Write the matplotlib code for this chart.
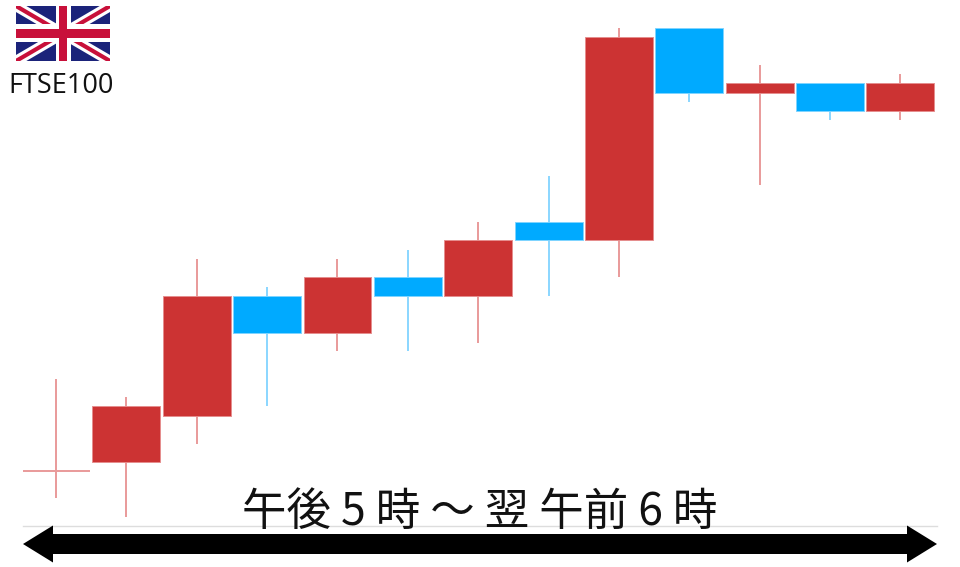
import matplotlib
matplotlib.use("Agg")
import matplotlib.pyplot as plt
from matplotlib.patches import Polygon, Rectangle

plt.rcParams['font.family'] = ['Noto Sans CJK JP', 'DejaVu Sans']

# Values, in height above the base line
body_low = [55, 64, 110, 193, 193, 230, 230, 286, 286, 433, 433, 415, 415]
body_high = [55, 120, 230, 230, 249, 249, 286, 304, 489, 498, 443, 443, 443]
wick_low = [28, 9, 82, 120, 175, 175, 183, 230, 249, 424, 341, 406, 406]
wick_high = [147, 129, 267, 239, 267, 276, 304, 350, 498, 498, 461, 443, 452]
is_up = [1, 1, 1, 0, 1, 0, 1, 0, 1, 0, 1, 0, 1]
label_title = "FTSE100"
label_span = "午後 5 時 ～ 翌 午前 6 時"

RED, BLUE = "#CC3333", "#00AAFF"
RED_W, BLUE_W = "#E99A9A", "#8AD6FF"
RED_E, BLUE_E = "#E68E8E", "#80D4FF"

W, H = 960, 567
fig = plt.figure(figsize=(W / 100, H / 100), dpi=100, facecolor="white")

# Main candle axes: left 23 px to 937 px, base line at 526 px from top
ax = fig.add_axes([23 / W, 1 - 526 / H, (937 - 23) / W, 526 / H])
ax.set_xlim(-0.469, 12.52)
ax.set_ylim(0, 526)
ax.patch.set_alpha(0)
for s in ("top", "left", "right"):
    ax.spines[s].set_visible(False)
ax.spines["bottom"].set_color("#DDDDDD")
ax.spines["bottom"].set_linewidth(1.0)
ax.set_xticks([])
ax.set_yticks([])

bw = 0.965
for i in range(len(is_up)):
    c, wc, ec = (RED, RED_W, RED_E) if is_up[i] else (BLUE, BLUE_W, BLUE_E)
    ax.vlines(i, wick_low[i], wick_high[i], color=wc, lw=1.4, zorder=2)
    h = body_high[i] - body_low[i]
    if h == 0:
        ax.hlines(body_low[i], i - 0.47, i + 0.48, color=wc, lw=1.4, zorder=2)
    else:
        ax.add_patch(Rectangle((i - bw / 2, body_low[i]), bw, h, facecolor=c,
                               edgecolor=ec, lw=0.7, zorder=3))

# Overlay in pixel coordinates for the annotations
ov = fig.add_axes([0, 0, 1, 1])
ov.set_xlim(0, W)
ov.set_ylim(H, 0)
ov.axis("off")
ov.patch.set_alpha(0)

# Double headed arrow
ov.add_patch(Polygon([[23, 544], [53, 525.5], [53, 534], [907, 534], [907, 525.5], [937, 544],
                      [907, 562.5], [907, 554], [53, 554], [53, 562.5]],
                     closed=True, facecolor="black", edgecolor="none", zorder=4))

ov.text(480, 511.5, label_span, ha="center", va="center", fontsize=32, color="#111111", zorder=5)
ov.text(61, 86, label_title, ha="center", va="center", fontsize=19.5, color="#111111",
        family=["Open Sans", "DejaVu Sans"], zorder=5)

# Union flag
fa = fig.add_axes([16 / W, 1 - 61 / H, 94 / W, 55 / H])
fa.set_xlim(0, 94)
fa.set_ylim(55, 0)
fa.axis("off")
fa.add_patch(Rectangle((0, 0), 94, 55, color="#1B237A", lw=0, zorder=1))
for p, q in [((0, 0), (94, 55)), ((0, 55), (94, 0))]:
    fa.plot([p[0], q[0]], [p[1], q[1]], color="white", lw=7.5, solid_capstyle="butt", zorder=2)
    fa.plot([p[0], q[0]], [p[1], q[1]], color="#C8103A", lw=3, solid_capstyle="butt", zorder=3)
fa.add_patch(Rectangle((0, 55 / 2 - 9), 94, 18, color="white", lw=0, zorder=4))
fa.add_patch(Rectangle((47 - 7.5, 0), 15, 55, color="white", lw=0, zorder=4))
fa.add_patch(Rectangle((0, 55 / 2 - 4.5), 94, 9, color="#C8103A", lw=0, zorder=5))
fa.add_patch(Rectangle((47 - 4, 0), 8, 55, color="#C8103A", lw=0, zorder=5))

fig.savefig("out.png", dpi=100, facecolor="white")
